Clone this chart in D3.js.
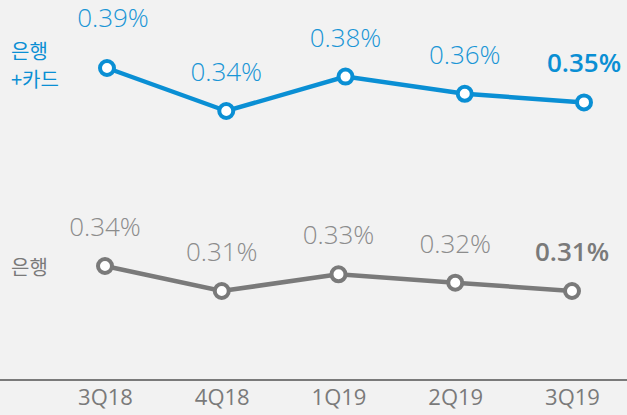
<!DOCTYPE html>
<html>
<head>
<meta charset="utf-8">
<script src="https://cdn.jsdelivr.net/npm/d3@7"></script>
<style>
  body { margin: 0; background: #f2f2f2; }
  svg { display: block; font-family: "Noto Sans CJK KR", "Noto Sans", sans-serif; }
</style>
</head>
<body>
<div id="graph"></div>
<script>
var quarters = ["3Q18", "4Q18", "1Q19", "2Q19", "3Q19"];
var bankCard = [0.39, 0.34, 0.38, 0.36, 0.35];
var bank = [0.34, 0.31, 0.33, 0.32, 0.31];
var seriesNames = [["은행", "+카드"], ["은행"]];

var width = 627, height = 415;
var blue = "#0a8fd4", grey = "#7a7a7a";

var svg = d3.select("#graph")
    .append("svg")
    .attr("width", width)
    .attr("height", height);

svg.append("rect").attr("width", width).attr("height", height).attr("fill", "#f2f2f2");

var xGrey = d3.scalePoint().domain(quarters).range([105, 572]);
var xBlue = d3.scalePoint().domain(quarters).range([107, 584]);
var yBlue = d3.scaleLinear().domain([0.34, 0.39]).range([111, 68]);
var yGrey = d3.scaleLinear().domain([0.31, 0.34]).range([291, 266]);

// x axis
var axis = svg.append("g")
    .attr("transform", "translate(0,380)")
    .call(d3.axisBottom(xGrey).tickSize(0).tickPadding(9));
axis.select(".domain").remove();
axis.append("line").attr("x1", 0).attr("x2", width)
    .attr("stroke", grey).attr("stroke-width", 2);
axis.selectAll(".tick text")
    .attr("font-size", 22)
    .attr("font-weight", 500)
    .attr("fill", grey)
    .attr("font-family", "'Open Sans', sans-serif");

function drawSeries(values, x, y, color, labelColor, offsetFirst) {
  var line = d3.line()
      .x(function (d, i) { return x(quarters[i]); })
      .y(function (d) { return y(d); });
  svg.append("path")
    .datum(values)
    .attr("d", line)
    .attr("fill", "none")
    .attr("stroke", color)
    .attr("stroke-width", 4.5);
  svg.selectAll(null)
    .data(values)
    .enter()
    .append("circle")
    .attr("cx", function (d, i) { return x(quarters[i]); })
    .attr("cy", function (d) { return y(d); })
    .attr("r", 7)
    .attr("fill", "#fff")
    .attr("stroke", color)
    .attr("stroke-width", 4);
  svg.selectAll(null)
    .data(values)
    .enter()
    .append("text")
    .attr("x", function (d, i) { return x(quarters[i]) + (i === 0 && offsetFirst ? 6 : 0); })
    .attr("y", function (d, i) { return y(d) - (i === 0 && offsetFirst ? 41 : 30); })
    .attr("text-anchor", "middle")
    .attr("font-family", "'Open Sans', sans-serif")
    .attr("font-size", 26)
    .attr("font-weight", function (d, i) { return i === values.length - 1 ? 600 : 300; })
    .attr("fill", function (d, i) { return i === values.length - 1 ? color : labelColor; })
    .text(function (d) { return d.toFixed(2) + "%"; });
}

drawSeries(bankCard, xBlue, yBlue, blue, "#1a96d6", true);
drawSeries(bank, xGrey, yGrey, grey, "#8c8c8c", false);

// series names
svg.append("text")
  .attr("x", 11).attr("y", 59)
  .attr("fill", blue).attr("font-size", 20)
  .selectAll("tspan")
  .data(seriesNames[0])
  .enter()
  .append("tspan")
  .attr("x", 11)
  .attr("dy", function (d, i) { return i === 0 ? 0 : 28; })
  .text(function (d) { return d; });

svg.append("text")
  .attr("x", 11).attr("y", 275)
  .attr("fill", grey).attr("font-size", 20)
  .text(seriesNames[1][0]);
</script>
</body>
</html>
